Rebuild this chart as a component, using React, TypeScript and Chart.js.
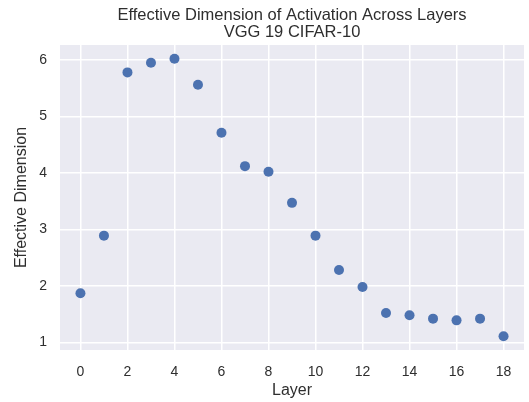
import React, { useEffect, useRef } from "react";
import { Chart, registerables } from "chart.js";

Chart.register(...registerables);

const TITLE_LINES = ["Effective Dimension of Activation Across Layers", "VGG 19 CIFAR-10"];
const X_LABEL = "Layer";
const Y_LABEL = "Effective Dimension";
const LAYERS = [0, 1, 2, 3, 4, 5, 6, 7, 8, 9, 10, 11, 12, 13, 14, 15, 16, 17, 18];
const EFFECTIVE_DIM = [1.87, 2.89, 5.78, 5.95, 6.02, 5.56, 4.71, 4.12, 4.02, 3.47, 2.89, 2.28, 1.98, 1.52, 1.48, 1.42, 1.39, 1.42, 1.11];
const X_TICKS = [0, 2, 4, 6, 8, 10, 12, 14, 16, 18];
const Y_TICKS = [1, 2, 3, 4, 5, 6];

const FONT = "'Liberation Sans', Arial, sans-serif";
const TEXT = "#2e2e2e";

export default function App() {
  const ref = useRef<HTMLCanvasElement | null>(null);

  useEffect(() => {
    if (!ref.current) return;
    const bgPlugin = {
      id: "bg",
      beforeDraw(chart: any) {
        const { ctx, chartArea } = chart;
        ctx.save();
        ctx.fillStyle = "#ffffff";
        ctx.fillRect(0, 0, chart.width, chart.height);
        ctx.fillStyle = "#EAEAF2";
        ctx.fillRect(chartArea.left, chartArea.top, chartArea.right - chartArea.left, chartArea.bottom - chartArea.top);
        ctx.restore();
      },
      afterDraw(chart: any) {
        const { ctx, chartArea } = chart;
        ctx.save();
        ctx.fillStyle = TEXT;
        ctx.font = `16.5px ${FONT}`;
        ctx.textAlign = "center";
        ctx.textBaseline = "middle";
        const cx = (chartArea.left + chartArea.right) / 2;
        ctx.fillText(TITLE_LINES[0], cx, 15);
        ctx.fillText(TITLE_LINES[1], cx, 32);
        ctx.restore();
      },
    };

    const chart = new Chart(ref.current, {
      type: "scatter",
      data: {
        datasets: [
          {
            data: LAYERS.map((x, i) => ({ x, y: EFFECTIVE_DIM[i] })),
            backgroundColor: "#4C72B0",
            borderWidth: 0,
            pointRadius: 5,
          },
        ],
      },
      options: {
        responsive: false,
        animation: false,
        devicePixelRatio: 1,
        layout: { padding: { top: 45, left: 0, right: 0, bottom: 0 } },
        plugins: { legend: { display: false }, tooltip: { enabled: false }, title: { display: false } },
        scales: {
          x: {
            type: "linear",
            min: -0.87,
            max: 18.87,
            afterBuildTicks: (s: any) => {
              s.ticks = X_TICKS.map((v) => ({ value: v }));
            },
            afterFit: (s: any) => {
              s.height = 52;
            },
            grid: { color: "#ffffff", lineWidth: 1.5, drawTicks: false },
            border: { display: false },
            ticks: { padding: 14, color: TEXT, font: { family: FONT, size: 14 }, maxRotation: 0, autoSkip: false },
            title: { display: true, text: X_LABEL, color: TEXT, font: { family: FONT, size: 16 }, padding: { top: 0, bottom: 1.5 } },
          },
          y: {
            type: "linear",
            min: 0.865,
            max: 6.265,
            afterBuildTicks: (s: any) => {
              s.ticks = Y_TICKS.map((v) => ({ value: v }));
            },
            afterFit: (s: any) => {
              s.width = 60;
            },
            grid: { color: "#ffffff", lineWidth: 1.5, drawTicks: false },
            border: { display: false },
            ticks: { padding: 13, color: TEXT, font: { family: FONT, size: 14 } },
            title: { display: true, text: Y_LABEL, color: TEXT, font: { family: FONT, size: 16 }, padding: { top: 12, bottom: 0 } },
          },
        },
      },
      plugins: [bgPlugin],
    });
    return () => chart.destroy();
  }, []);

  return (
    <div style={{ position: "absolute", left: 0, top: 0, width: 529, height: 402 }}>
      <canvas ref={ref} width={529} height={402} style={{ width: 529, height: 402, display: "block" }} />
    </div>
  );
}
